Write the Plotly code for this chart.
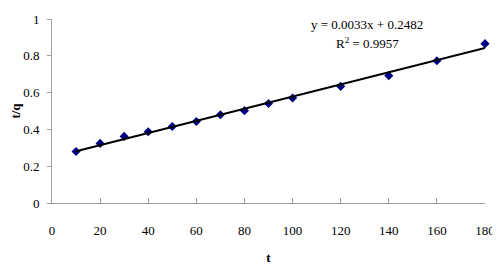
import plotly.graph_objects as go

t_values = [10, 20, 30, 40, 50, 60, 70, 80, 90, 100, 120, 140, 160, 180]
tq_values = [0.280, 0.324, 0.362, 0.387, 0.416, 0.443, 0.480, 0.502, 0.541, 0.571, 0.634, 0.692, 0.773, 0.866]
slope = 0.0033
intercept = 0.2482
trend_x = [10, 180]
eq_text = "y = 0.0033x + 0.2482"
r2_text = "R<sup>2</sup> = 0.9957"

font_family = "Liberation Serif"

fig = go.Figure()
fig.add_trace(go.Scatter(
    x=t_values, y=tq_values, mode="markers",
    marker=dict(symbol="diamond", size=7, color="#000080"),
    showlegend=False, cliponaxis=False))
fig.add_trace(go.Scatter(
    x=trend_x, y=[slope * v + intercept for v in trend_x], mode="lines",
    line=dict(color="black", width=2), showlegend=False))

fig.update_layout(
    width=492, height=261,
    margin=dict(l=44, r=15, t=11, b=66, autoexpand=False),
    paper_bgcolor="white", plot_bgcolor="white",
    font=dict(family=font_family, size=13, color="black"),
    xaxis=dict(range=[0, 180], tickvals=list(range(0, 181, 20)),
               showgrid=False, zeroline=False, showline=True, linecolor="#a0a0a0",
               linewidth=1, ticks="inside", ticklen=5, tickcolor="#a0a0a0",
               ticklabelstandoff=15, automargin=False,
               title=dict(text="<b>t</b>", standoff=16, font=dict(size=13))),
    yaxis=dict(range=[0, 1], tickvals=[0, 0.2, 0.4, 0.6, 0.8, 1],
               ticktext=["0", "0.2", "0.4", "0.6", "0.8", "1"],
               showgrid=False, zeroline=False, showline=True, linecolor="#a0a0a0",
               linewidth=1, ticks="outside", ticklen=4, tickcolor="#a0a0a0",
               ticklabelstandoff=5, automargin=False,
               title=dict(text="<b>t/q</b>", standoff=10, font=dict(size=13))),
)
fig.add_annotation(x=131, y=1.023, xref="x", yref="paper", text=eq_text,
                   showarrow=False, font=dict(size=13))
fig.add_annotation(x=131, y=0.925, xref="x", yref="paper", text=r2_text,
                   showarrow=False, font=dict(size=13))

fig.write_html("out.html")
